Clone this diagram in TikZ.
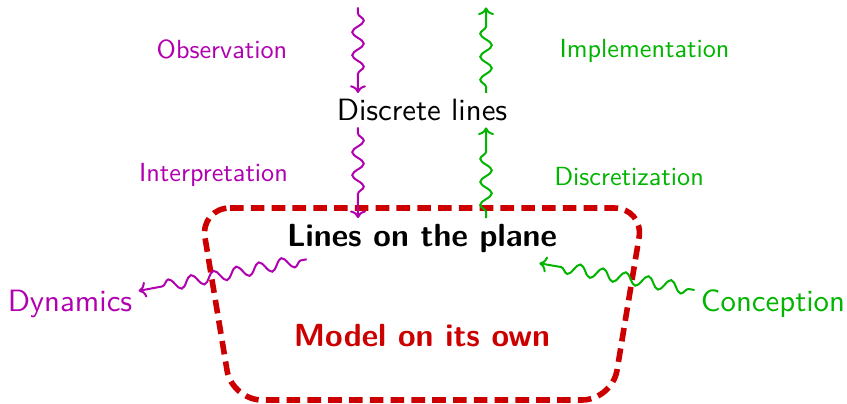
\documentclass[tikz,border=0pt]{standalone}
\usepackage{fontspec}
\setsansfont{lmsans10-regular.otf}[BoldFont=lmsans10-bold.otf]
\usepackage{tikz}
\usetikzlibrary{arrows.meta,decorations.pathmorphing}
\definecolor{obsC}{HTML}{B000B0}
\definecolor{impC}{HTML}{00B400}
\definecolor{modC}{HTML}{CC0000}
\begin{document}
\begin{tikzpicture}[
  big/.style={font=\fontsize{15.4}{19}\selectfont\sffamily,inner sep=3pt},
  bigb/.style={font=\fontsize{16}{19}\selectfont\sffamily\bfseries,inner sep=3pt},
  lab/.style={font=\fontsize{13.1}{16}\selectfont\sffamily,anchor=base},
  wig/.style={->,line width=1pt,decorate,decoration={snake,amplitude=2.9pt,segment length=11.5pt,pre length=3pt,post length=8pt}},
  frame/.style={draw=modC,line width=2.8pt,dash pattern=on 6.8pt off 3.6pt,rounded corners=15pt}]
\useasboundingbox (-7.416,-3.541) rectangle (7.468,3.541);
% the three levels
\node[big,anchor=base] (disc) at (0,1.420) {Discrete lines};
\node[bigb,anchor=base] (plane) at (0,-0.794) {Lines on the plane};
\node[bigb,anchor=base,text=modC] (own) at (0,-2.552) {Model on its own};
\node[big,anchor=base,text=obsC] (dyn) at (-6.186,-1.937) {Dynamics};
\node[big,anchor=base,text=impC] (con) at (6.168,-1.937) {Conception};
% labels
\node[lab,text=obsC] (obs) at (-3.515,2.516) {Observation};
\node[lab,text=obsC] (intp) at (-3.664,0.348) {Interpretation};
\node[lab,text=impC] (impl) at (3.910,2.530) {Implementation};
\node[lab,text=impC] (dscr) at (3.638,0.290) {Discretization};
% free ends on top
\coordinate (obsTop) at (-1.125,3.41);
\coordinate (impTop) at (1.125,3.41);
% model box
\draw[frame] (-3.9,-0.114) -- (3.9,-0.114) -- (3.34,-3.488) -- (-3.34,-3.488) -- cycle;
% wiggly arrows
\draw[wig,obsC] (obsTop) -- (disc.north -| obsTop);
\draw[wig,impC] (disc.north -| impTop) -- (impTop);
\draw[wig,obsC] (disc.south -| obsTop) -- (plane.north -| obsTop);
\draw[wig,impC] (plane.north -| impTop) -- (disc.south -| impTop);
\draw[wig,obsC] ([xshift=13pt]plane.south west) -- (dyn.11);
\draw[wig,impC] (con.170) -- ([xshift=-12pt,yshift=-2pt]plane.south east);
\end{tikzpicture}
\end{document}
